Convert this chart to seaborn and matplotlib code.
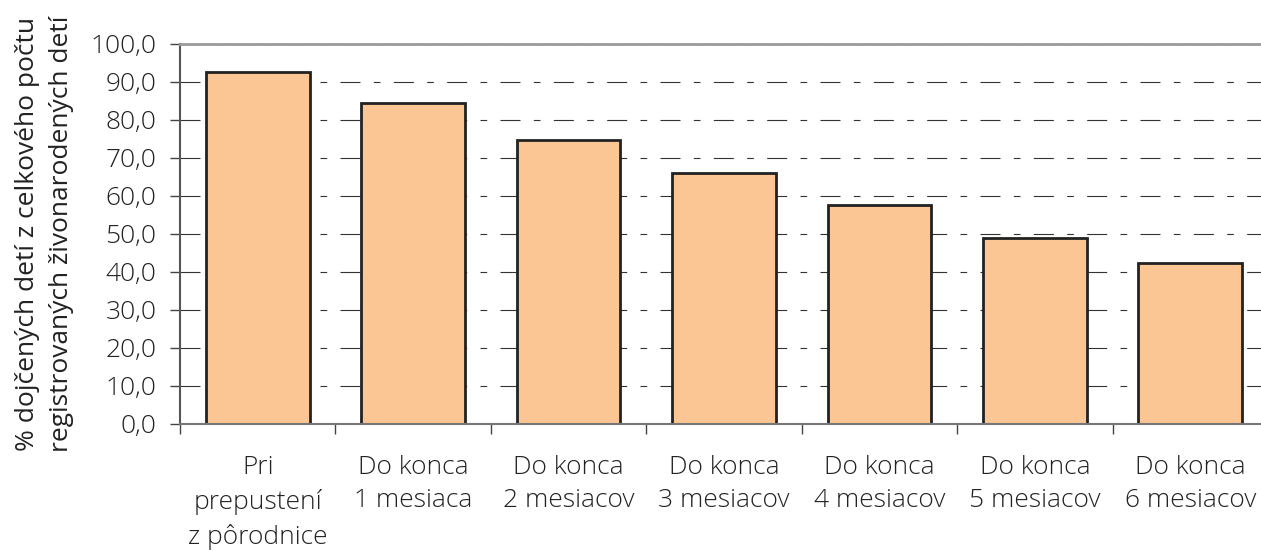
import matplotlib
matplotlib.use('Agg')
import matplotlib.pyplot as plt
import seaborn as sns
import pandas as pd
from matplotlib.ticker import FixedLocator, FuncFormatter

# Data
categories = ['Pri\nprepustení\nz pôrodnice', 'Do konca\n1 mesiaca', 'Do konca\n2 mesiacov',
              'Do konca\n3 mesiacov', 'Do konca\n4 mesiacov', 'Do konca\n5 mesiacov',
              'Do konca\n6 mesiacov']
values = [92.7, 84.4, 74.7, 66.0, 57.5, 48.9, 42.4]
y_ticks = [0, 10, 20, 30, 40, 50, 60, 70, 80, 90, 100]
y_label = '% dojčených detí z celkového počtu\nregistrovaných živonarodených detí'

df = pd.DataFrame({'cat': categories, 'val': values})

sns.set_style('white')
plt.rcParams['font.family'] = ['Open Sans', 'DejaVu Sans']
plt.rcParams['font.weight'] = 'light'

fig = plt.figure(figsize=(12.61, 5.51), dpi=100)
ax = fig.add_axes([180 / 1261, 1 - 424 / 551, 1088 / 1261, 380 / 551])

sns.barplot(data=df, x='cat', y='val', color='#FBC594', saturation=1,
            edgecolor='#222222', linewidth=2, width=0.667, ax=ax)

ax.set_ylim(0, 100)
ax.set_xlim(-0.5, len(categories) - 0.5)
ax.yaxis.set_major_locator(FixedLocator(y_ticks))
ax.yaxis.set_major_formatter(FuncFormatter(lambda v, p: f'{v:.1f}'.replace('.', ',')))

# dashed grid behind the bars
ax.set_axisbelow(True)
ax.yaxis.grid(True, color='#333333', linewidth=0.8, linestyle=(0, (18, 12, 6, 12)))
ax.xaxis.grid(False)

# spines
ax.spines['top'].set_color('#9a9a9a')
ax.spines['top'].set_linewidth(2)
ax.spines['right'].set_visible(False)
ax.spines['left'].set_color('#555555')
ax.spines['left'].set_linewidth(1.5)
ax.spines['bottom'].set_color('#777777')
ax.spines['bottom'].set_linewidth(1.5)

fs = 19
# ticks
ax.tick_params(axis='y', direction='out', length=7, width=1, color='#444444',
               pad=10, labelsize=fs, labelcolor='#222222', left=True)
ax.tick_params(axis='x', which='major', length=0, pad=22, labelsize=fs,
               labelcolor='#222222')
ax.set_xticks([i - 0.5 for i in range(len(categories) + 1)], minor=True)
ax.tick_params(axis='x', which='minor', direction='out', length=7, width=1,
               color='#444444', bottom=True)
for lbl in ax.get_xticklabels():
    lbl.set_linespacing(1.45)

ax.set_xlabel('')
ax.set_ylabel(y_label, fontsize=fs, color='#222222', linespacing=1.45, labelpad=12)

fig.savefig('out.png', dpi=100)
